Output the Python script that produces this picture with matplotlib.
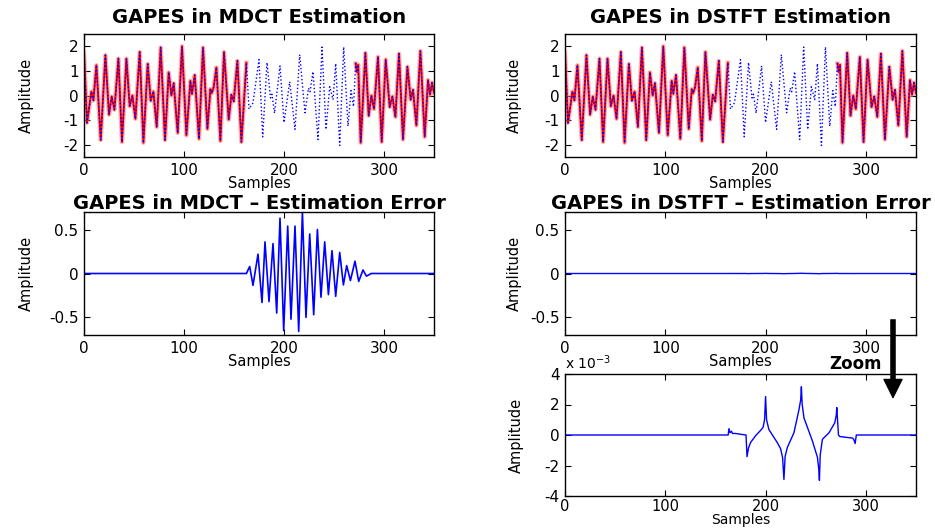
import numpy as np
import matplotlib
matplotlib.use('Agg')
import matplotlib.pyplot as plt
from matplotlib.ticker import FormatStrFormatter

# original signal, read at its turning points (sample, amplitude)
sig_n = [0, 3, 7.4, 9.4, 12.4, 16.7, 21.4, 25, 27.7, 30.4, 34.4, 38, 42.4, 45.7, 48.4, 51.4,
         55.7, 59.4, 63.7, 66.7, 69.4, 72.7, 76.7, 81, 84.7, 87.4, 89.7, 93.7, 98, 102.4,
         106.4, 108, 110.7, 115, 119, 123.4, 126.4, 127.7, 129.7, 132.4, 136.4, 140, 144.7,
         147.4, 149.7, 153.4, 157.4, 162.4,
         165, 169, 175, 178.7, 183, 186.5, 188, 190.5, 196, 200, 205.7, 211, 215.7, 221,
         224.5, 226, 229, 234, 238, 242, 245.7, 249, 251.7, 255.7, 259.7, 264, 267, 269.5,
         271.7, 273, 274.2, 276.7, 281.4, 284.7, 287.4, 290, 294, 297.7, 301.7, 305.7, 308.4,
         311.4, 315, 319, 323.4, 326.7, 329, 332.4, 336.4, 340.7, 344, 346, 348, 350]
sig_v = [1.75, -1.11, 0.16, -0.2, 1.23, -1.81, 1.64, -0.78, -0.04, -0.58, 1.50, -1.89, 1.50, -0.44, 0.0, -0.95,
         1.77, -1.92, 1.28, -0.21, 0.16, -1.28, 1.95, -1.81, 0.94, 0.0, 0.5, -1.52, 2.0, -1.62,
         0.6, 0.07, 0.83, -1.76, 1.95, -1.36, 0.26, 0.09, 0.34, 1.14, -1.85, 1.77, -0.98,
         0.03, -0.24, 1.41, -1.89, 1.33,
         -0.55, -0.3, 1.46, -1.68, 1.34, -0.1, 0.05, -0.72, 1.2, -1.1, 0.56, -1.38, 1.66, -0.7,
         0.3, 0.15, 0.97, -1.79, 1.97, -1.38, 0.36, -0.17, 1.3, -2.03, 1.97, -1.25, 0.2, -0.45,
         1.3, 0.95, 1.25, -1.92, 1.73, -0.82, 0.0, -0.55, 1.57, -1.89, 1.46, -0.47, -0.04,
         -0.87, 1.70, -1.79, 1.17, -0.17, 0.23, -1.22, 1.81, -1.68, 0.63, 0.03, 0.52, 0.1]

# missing segment (no estimate drawn inside it)
gap_lo, gap_hi = 162.4, 271.7

# MDCT estimation error
err_mdct_n = [0, 162.4, 165.7, 169, 174, 178, 181, 185, 189, 192.7, 196, 199.7, 203.7, 207,
              211, 214.7, 218.4, 222, 225.7, 229.7, 233.4, 237, 240.7, 244.4, 248, 251.7,
              255.7, 259.4, 262.7, 266.4, 271, 274.7, 279, 282.4, 285.7, 287, 350]
err_mdct_v = [0, 0, 0.08, -0.135, 0.22, -0.33, 0.36, -0.32, 0.34, -0.45, 0.63, -0.65, 0.54, -0.52,
              0.54, -0.66, 0.70, -0.50, 0.45, -0.47, 0.50, -0.27, 0.36, -0.24, 0.26, -0.26,
              0.24, -0.13, 0.09, -0.08, 0.14, -0.09, 0.04, -0.03, -0.01, 0, 0]

# DSTFT estimation error, in units of 1e-3
err_dstft_n = [0, 162.7, 163.5, 164.5, 166, 167, 170, 175, 180.5, 181.5, 183, 185, 190, 195,
               197.5, 199, 200, 201, 203.3, 211.7, 215, 217, 218.3, 219.5, 221.7, 228.3, 233.3,
               235, 235.7, 236.5, 238.3, 246.7, 251.7, 253, 253.7, 254.5, 256.7, 263.3, 269,
               270.5, 271, 272.7, 274, 280, 286.7, 288, 289.3, 290.5, 350]
err_dstft_v = [0, 0, 0.42, 0.15, 0.25, 0.1, 0.1, 0.05, 0.0, -1.42, -0.85, -0.5, -0.05, 0.3,
               0.5, 1.0, 2.52, 1.0, 0.36, -0.5, -0.9, -1.5, -2.92, -1.4, -0.82, 0.15, 1.66,
               2.3, 3.16, 2.0, 1.12, -0.39, -1.46, -2.2, -2.97, -1.3, -0.28, 0.15, 0.8,
               1.3, 1.8, 0.0, -0.1, -0.15, -0.2, -0.3, -0.56, 0.0, 0]

sig_n = np.array(sig_n)
sig_v = np.array(sig_v)

plt.rcParams['font.family'] = 'DejaVu Sans'
plt.rcParams['axes.unicode_minus'] = False

W, H = 935, 529
fig = plt.figure(figsize=(W / 100, H / 100), dpi=100)


def box(l, t, r, b):
    return [l / W, 1 - b / H, (r - l) / W, (b - t) / H]


def style(ax, ylim, yticks, ylab_x, xlab_pad=-1, xlab_size=10.5):
    ax.set_xlim(0, 350)
    ax.set_ylim(*ylim)
    ax.set_xticks([0, 100, 200, 300])
    ax.set_yticks(yticks)
    ax.yaxis.set_major_formatter(FormatStrFormatter('%g'))
    ax.tick_params(direction='in', top=True, right=True, length=4, labelsize=11, pad=4)
    for s in ax.spines.values():
        s.set_linewidth(1.0)
    ax.set_xlabel('Samples', fontsize=xlab_size, labelpad=xlab_pad)
    ax.set_ylabel('Amplitude', fontsize=10.5)
    ax.yaxis.set_label_coords(ylab_x, 0.5)


def estimate_plot(ax, title, ylab_x):
    keep1 = sig_n <= gap_lo
    keep2 = sig_n >= gap_hi
    for k in (keep1, keep2):
        ax.plot(sig_n[k], sig_v[k], color='#ff8080', lw=3.2, alpha=0.6)
        ax.plot(sig_n[k], sig_v[k], color='red', lw=1.4)
    ax.plot(sig_n, sig_v, color='blue', ls=':', lw=1.0)
    style(ax, (-2.5, 2.5), [-2, -1, 0, 1, 2], ylab_x)
    ax.set_title(title, fontsize=14, fontweight='bold', pad=8)


ax1 = fig.add_axes(box(84, 34, 434, 157))
estimate_plot(ax1, 'GAPES in MDCT Estimation', -0.143)
ax2 = fig.add_axes(box(565, 34, 916, 157))
estimate_plot(ax2, 'GAPES in DSTFT Estimation', -0.122)

ax3 = fig.add_axes(box(84, 212, 434, 335))
ax3.plot(err_mdct_n, err_mdct_v, color='blue', lw=1.2)
style(ax3, (-0.7, 0.7), [-0.5, 0, 0.5], -0.143)
ax3.set_title('GAPES in MDCT – Estimation Error', fontsize=14, fontweight='bold', pad=2)

ax4 = fig.add_axes(box(565, 212, 916, 335))
ax4.plot(err_dstft_n, np.array(err_dstft_v) * 1e-3, color='blue', lw=1.0)
style(ax4, (-0.7, 0.7), [-0.5, 0, 0.5], -0.122)
ax4.set_title('GAPES in DSTFT – Estimation Error', fontsize=14, fontweight='bold', pad=2)

ax5 = fig.add_axes(box(565, 374, 916, 496))
ax5.plot(err_dstft_n, err_dstft_v, color='blue', lw=1.0)
style(ax5, (-4, 4), [-4, -2, 0, 2, 4], -0.117, xlab_pad=-0.5, xlab_size=10)
ax5.tick_params(axis='x', pad=2, labelsize=10.5)
ax5.text(0, 1.015, r'x 10$^{-3}$', transform=ax5.transAxes, fontsize=10, va='bottom')

fig.text(882 / W, 1 - 369 / H, 'Zoom', fontsize=12, fontweight='bold', ha='right', va='baseline')
fig.add_artist(plt.Line2D([893 / W, 893 / W], [1 - 322 / H, 1 - 384 / H], color='black', lw=4))
ax5.annotate('', xy=(893, H - 399), xycoords='figure pixels',
             xytext=(893, H - 380), textcoords='figure pixels',
             arrowprops=dict(arrowstyle='-|>,head_width=0.45,head_length=0.9', color='black',
                             lw=1, mutation_scale=14.4, shrinkA=0, shrinkB=0))

fig.savefig('out.png', dpi=100)
